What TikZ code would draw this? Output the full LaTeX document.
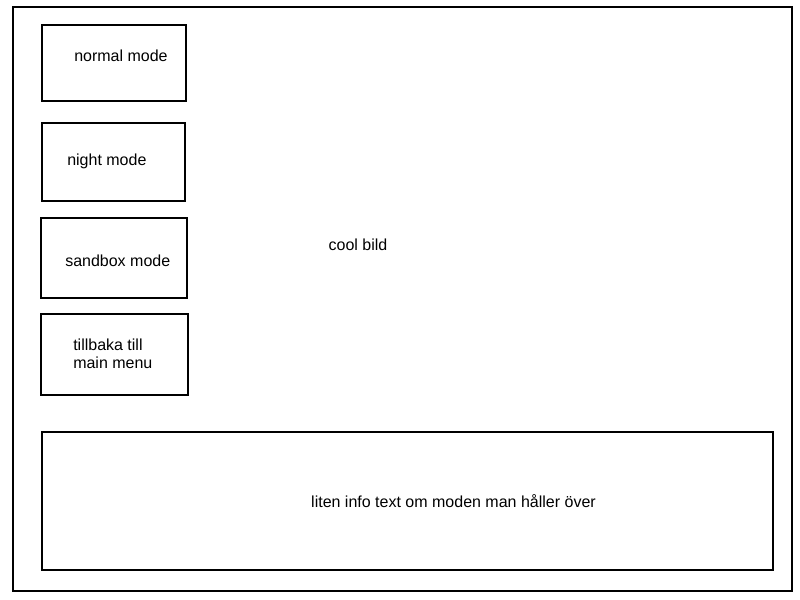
\documentclass[tikz,border=0pt]{standalone}
\usepackage{fontspec}
\setmainfont{Liberation Sans}
\begin{document}
\begin{tikzpicture}[x=0.75pt,y=-0.75pt,
  box/.style={draw=black,line width=1.5pt},
  lbl/.style={inner sep=0pt,font=\fontsize{12pt}{13.5pt}\selectfont,align=left}]
\useasboundingbox (0,0) rectangle (800,600);
\draw[box] (13,7) rectangle (792,591);
\node[box,minimum width=144*0.75pt,minimum height=76*0.75pt,inner sep=0pt] (b1) at (114,63) {};
\node[box,minimum width=143*0.75pt,minimum height=78*0.75pt,inner sep=0pt] (b2) at (113.5,162) {};
\node[box,minimum width=146*0.75pt,minimum height=80*0.75pt,inner sep=0pt] (b3) at (114,258) {};
\node[box,minimum width=147*0.75pt,minimum height=81*0.75pt,inner sep=0pt] (b4) at (114.5,354.5) {};
\node[box,minimum width=731*0.75pt,minimum height=138*0.75pt,inner sep=0pt] (b5) at (407.5,501) {};
\node[lbl,anchor=west] (t1) at (74,56) {normal mode};
\node[lbl,anchor=west] (t2) at (67,161) {night mode};
\node[lbl,anchor=west] (t3) at (65,261) {sandbox mode};
\node[lbl,anchor=west] (t4) at (73,354) {tillbaka till\\main menu};
\node[lbl] (t5) at (453.5,501) {liten info text om moden man håller över};
\node[lbl] (t6) at (358,245) {cool bild};
\end{tikzpicture}
\end{document}
